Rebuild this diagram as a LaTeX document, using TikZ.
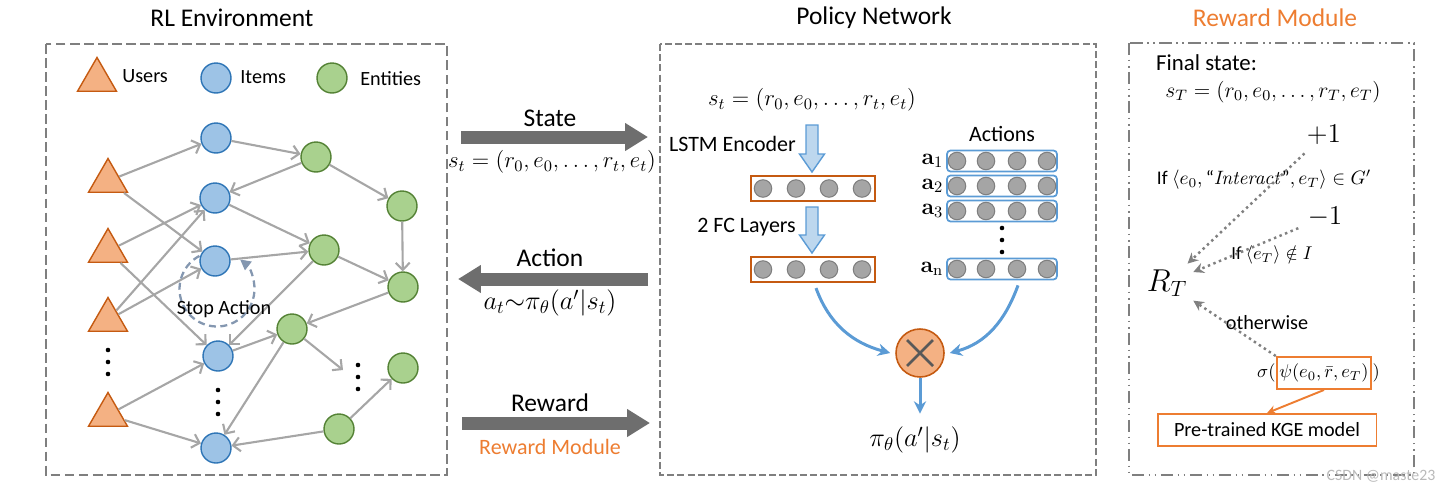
\documentclass[tikz,border=0pt]{standalone}
\usepackage{fix-cm}
\usepackage{amsmath}
\usepackage[no-math]{fontspec}
\setmainfont{Carlito}
\usetikzlibrary{arrows.meta, positioning, shapes.geometric, calc}
\definecolor{UserFill}{HTML}{F4B183}
\definecolor{UserLine}{HTML}{C55A11}
\definecolor{ItemFill}{HTML}{9DC3E6}
\definecolor{ItemLine}{HTML}{2E75B6}
\definecolor{EntFill}{HTML}{A9D18E}
\definecolor{EntLine}{HTML}{548235}
\definecolor{EdgeGray}{HTML}{A6A6A6}
\definecolor{BoxGray}{HTML}{7F7F7F}
\definecolor{FlowGray}{HTML}{6E6E6E}
\definecolor{RewOrange}{HTML}{ED7D31}
\definecolor{NetBlue}{HTML}{5B9BD5}
\definecolor{PaleBlue}{HTML}{BDD7EE}
\definecolor{StopBlue}{HTML}{8497B0}
\definecolor{UnitGray}{HTML}{A5A5A5}

\tikzset{
  user/.style={regular polygon, regular polygon sides=3, minimum size=0.9cm, inner sep=0pt,
    fill=UserFill, draw=UserLine, line width=0.8pt},
  item/.style={circle, minimum size=0.6cm, inner sep=0pt, fill=ItemFill, draw=ItemLine, line width=0.8pt},
  entity/.style={circle, minimum size=0.6cm, inner sep=0pt, fill=EntFill, draw=EntLine, line width=0.8pt},
  link/.style={EdgeGray, line width=1.2pt, -{Straight Barb[length=4pt, width=8pt]}},
  flow/.style={FlowGray, line width=7.4pt, -{Triangle[length=13pt, width=15pt]}},
  vec/.style={draw=UserLine, line width=1.2pt, minimum width=2.48cm, minimum height=0.5cm, inner sep=0pt},
  act/.style={draw=NetBlue, line width=1pt, rounded corners=2pt, minimum width=2.2cm, minimum height=0.42cm, inner sep=0pt},
  unit/.style={circle, fill=UnitGray, draw=BoxGray, minimum size=0.35cm, inner sep=0pt, line width=0.6pt},
  hollow/.style={fill=PaleBlue, draw=NetBlue, line width=0.8pt},
  merge/.style={NetBlue, line width=1.7pt, -{Stealth[length=7pt, width=7pt]}},
  hint/.style={gray, line width=1.4pt, dotted, -{Stealth[length=6pt, width=6pt]}},
  kgebox/.style={draw=RewOrange, line width=1.1pt},
  dotmark/.style={circle, fill=black, inner sep=0pt, minimum size=2.6pt},
  paneltitle/.style={font=\fontsize{14.5}{17}\selectfont},
  bigword/.style={font=\fontsize{14.5}{17}\selectfont},
  labeltext/.style={font=\fontsize{12.5}{15}\selectfont},
  legendtext/.style={font=\fontsize{11.5}{14}\selectfont, anchor=west, inner sep=0pt},
  condtext/.style={font=\fontsize{10.5}{13}\selectfont},
  mathtext/.style={font=\fontsize{13}{16}\selectfont}
}

\begin{document}
\begin{tikzpicture}[x=0.02cm, y=-0.02cm]
    \useasboundingbox (0,0) rectangle (1446,491);

    % RL environment panel
    \draw[BoxGray, line width=1.1pt, dash pattern=on 5.5pt off 2.5pt] (46,44) rectangle (447,475);
    \node[paneltitle] (rltitle) at (232,18) {RL Environment};

    % Legend
    \node[user] (lu) at (97,80) {};
    \node[legendtext] (lutext) at (122,76) {Users};
    \node[item] (li) at (216,78) {};
    \node[legendtext] (litext) at (240,77) {Items};
    \node[entity] (le) at (332,78) {};
    \node[legendtext] (letext) at (360,79) {Entities};

    % Users
    \node[user] (u1) at (108,181) {};
    \node[user] (u2) at (108,251) {};
    \node[user] (u3) at (108,320) {};
    \node[user] (u4) at (108,415) {};

    % Items
    \node[item] (i1) at (216,138) {};
    \node[item] (i2) at (215,198) {};
    \node[item] (i3) at (215,261) {};
    \node[item] (i4) at (218,356) {};
    \node[item] (i5) at (216,448) {};

    % Entities
    \node[entity] (e1) at (316,157) {};
    \node[entity] (e2) at (402,206) {};
    \node[entity] (e3) at (324,250) {};
    \node[entity] (e4) at (403,287) {};
    \node[entity] (e5) at (292,329) {};
    \node[entity] (e6) at (403,368) {};
    \node[entity] (e7) at (339,429) {};
    \coordinate (etail) at (343,370);

    % Vertical dots
    \foreach \y [count=\k] in {350,362,374} {
        \node[dotmark] (ud\k) at (108,\y) {};
        \node[dotmark] (id\k) at (218,\y+40) {};
        \node[dotmark] (ed\k) at (358,\y+15) {};
    }

    % Edges of the graph
    \draw[link] (u1) -- (i1);
    \draw[link] (u1) -- (i3);
    \draw[link] (u2) -- (i2);
    \draw[link] (u2) -- (i4);
    \draw[link] (u3) -- (i2);
    \draw[link] (u3) -- (i3);
    \draw[link] (u4) -- (i4);
    \draw[link] (u4) -- (i5);
    \draw[link] (i1) -- (e1);
    \draw[link] (e1) -- (i2);
    \draw[link] (i2) -- (e3);
    \draw[link] (i3) -- (e3);
    \draw[link] (e3) -- (i4);
    \draw[link] (e1) -- (e2);
    \draw[link] (e2) -- (e4);
    \draw[link] (e3) -- (e4);
    \draw[link] (e4) -- (e5);
    \draw[link] (i4) -- (e5);
    \draw[link] (e5) -- (i5);
    \draw[link] (e5) -- (etail);
    \draw[link] (e7) -- (e6);
    \draw[link] (e7) -- (i5);

    % Stop action loop
    \coordinate (stopc) at (217,289);
    \draw[StopBlue, line width=1.3pt, dash pattern=on 4pt off 2.5pt, -{Triangle[length=6pt, width=6pt]}]
        ([shift={(118:0.75cm)}]stopc) arc[start angle=118, end angle=412, radius=0.75cm];
    \node[legendtext, anchor=center] (stoptext) at (224,309) {Stop Action};

    % State / Action / Reward arrows
    \coordinate (statefrom) at (461,137);
    \coordinate (stateto) at (648,137);
    \draw[flow] (statefrom) -- (stateto);
    \node[bigword] (statelab) at (550,118) {State};
    \node[mathtext] (stateeq) at (552,162) {$s_t = (r_0, e_0, \dots, r_t, e_t)$};

    \coordinate (actfrom) at (648,279);
    \coordinate (actto) at (458,279);
    \draw[flow] (actfrom) -- (actto);
    \node[bigword] (actlab) at (550,258) {Action};
    \node[mathtext, font=\fontsize{15}{18}\selectfont] (acteq) at (550,303) {$a_t{\sim}\pi_\theta(a'|s_t)$};

    \coordinate (rewfrom) at (462,423);
    \coordinate (rewto) at (650,423);
    \draw[flow] (rewfrom) -- (rewto);
    \node[bigword] (rewlab) at (550,403) {Reward};
    \node[labeltext, text=RewOrange] (rewmod) at (550,447) {Reward Module};

    % Policy network panel
    \draw[BoxGray, line width=0.9pt, dash pattern=on 4pt off 1.8pt] (660,44) rectangle (1096,475);
    \node[paneltitle] (poltitle) at (874,18) {Policy Network};
    \node[mathtext] (polst) at (812,100) {$s_t = (r_0, e_0, \dots, r_t, e_t)$};

    % Encoder and FC layers
    \draw[hollow] (806,125) -- ++(12,0) -- ++(0,29) -- ++(6.5,0) -- ++(-12.5,18) -- ++(-12.5,-18) -- ++(6.5,0) -- cycle;
    \node[labeltext, anchor=east] (lstmlab) at (802,144) {LSTM Encoder};
    \node[vec] (enc) at (813,188.5) {};
    \draw[hollow] (806,207) -- ++(12,0) -- ++(0,28) -- ++(6.5,0) -- ++(-12.5,18) -- ++(-12.5,-18) -- ++(6.5,0) -- cycle;
    \node[labeltext, anchor=east] (fclab) at (802,227) {2 FC Layers};
    \node[vec] (fc) at (813,269.5) {};
    \foreach \x [count=\k] in {763,796,829,862} {
        \node[unit] (enc\k) at (\x,188.5) {};
        \node[unit] (fc\k) at (\x,269.5) {};
    }

    % Candidate actions
    \node[labeltext] (acttitle) at (1002,134) {Actions};
    \node[act] (act1) at (1002,161) {};
    \node[act] (act2) at (1002,186) {};
    \node[act] (act3) at (1002,211) {};
    \node[act] (actn) at (1002,269) {};
    \foreach \r/\y in {act1/161, act2/186, act3/211, actn/269} {
        \foreach \x [count=\k] in {957,986,1017,1047} {
            \node[unit] (\r u\k) at (\x,\y) {};
        }
    }
    \node[mathtext, anchor=east, inner sep=1.5pt] (act1lab) at (act1.west) {$\mathbf{a}_1$};
    \node[mathtext, anchor=east, inner sep=1.5pt] (act2lab) at (act2.west) {$\mathbf{a}_2$};
    \node[mathtext, anchor=east, inner sep=1.5pt] (act3lab) at (act3.west) {$\mathbf{a}_3$};
    \node[mathtext, anchor=east, inner sep=1.5pt] (actnlab) at (actn.west) {$\mathbf{a}_\mathrm{n}$};
    \foreach \y [count=\k] in {228,240,252}
        \node[dotmark] (ad\k) at (1002,\y) {};

    % Product and policy output
    \node[circle, minimum size=0.96cm, inner sep=0pt, fill=UserFill, draw=UserLine, line width=0.9pt] (mul) at (920,353) {};
    \draw[black!65, line width=1.5pt]
        ([shift={(-0.26cm,0.26cm)}]mul.center) -- ([shift={(0.26cm,-0.26cm)}]mul.center)
        ([shift={(0.26cm,0.26cm)}]mul.center) -- ([shift={(-0.26cm,-0.26cm)}]mul.center);
    \draw[merge] ([xshift=0.06cm, yshift=-0.1cm]fc.south) to[out=-70, in=165] ([xshift=-0.1cm]mul.west);
    \draw[merge] ([xshift=0.32cm, yshift=-0.1cm]actn.south) to[out=-110, in=15] ([xshift=0.1cm]mul.east);
    \node[font=\fontsize{15}{18}\selectfont] (pi) at (915,440) {$\pi_\theta(a'|s_t)$};
    \draw[merge, shorten >=4pt] (mul.south) -- (mul.south |- pi.north);

    % Reward module panel
    \draw[BoxGray, line width=1.1pt, dash pattern=on 7pt off 2.5pt on 1pt off 2.5pt on 1pt off 2.5pt] (1129,43) rectangle (1414,475);
    \node[paneltitle, text=RewOrange] (rmtitle) at (1275,18) {Reward Module};
    \node[labeltext, font=\fontsize{13}{15}\selectfont, anchor=west] (finalst) at (1150,63) {Final state:};
    \node[mathtext, font=\fontsize{12.3}{15}\selectfont] (sT) at (1273,92) {$s_T = (r_0, e_0, \dots, r_T, e_T)$};
    \node[font=\fontsize{15.5}{18}\selectfont] (plus) at (1324,135) {$+1$};
    \node[condtext, font=\fontsize{11}{13}\selectfont] (cond1) at (1264,180) {If $\langle e_0, \text{``}\mathit{Interact}\text{''}, e_T\rangle \in G'$};
    \node[font=\fontsize{15.5}{18}\selectfont] (minus) at (1325,217) {$-1$};
    \node[condtext] (cond2) at (1272,255) {If $\langle e_T\rangle \notin I$};
    \node[font=\fontsize{18}{21}\selectfont] (RT) at (1167,283) {$R_T$};
    \node[condtext, font=\fontsize{11.5}{14}\selectfont] (cond3) at (1267,323) {otherwise};
    \node[kgebox, condtext, inner sep=1.5pt, minimum height=0.64cm] (psi) at (1324,373) {$\psi(e_0, \bar{r}, e_T)$};
    \node[condtext, anchor=east, inner sep=0pt] (sigma) at (psi.west) {$\sigma($};
    \node[condtext, anchor=west, inner sep=0pt] (close) at (psi.east) {$)$};
    \node[kgebox, condtext, font=\fontsize{11.5}{14}\selectfont, minimum width=4.38cm, minimum height=0.64cm] (kge) at (1267,430) {Pre-trained KGE model};
    \draw[RewOrange, line width=1.1pt, -{Stealth[length=5pt, width=5pt]}] (psi.south) -- (kge.north);
    \draw[hint, shorten <=2pt] (plus) -- (RT);
    \draw[hint, shorten <=2pt] (minus) -- (RT);
    \draw[hint] (psi.north west) -- (RT);

    % Watermark
    \node[text=gray!55, font=\fontsize{9}{10}\selectfont] (mark) at (1381,476) {CSDN @maste23};
\end{tikzpicture}
\end{document}
